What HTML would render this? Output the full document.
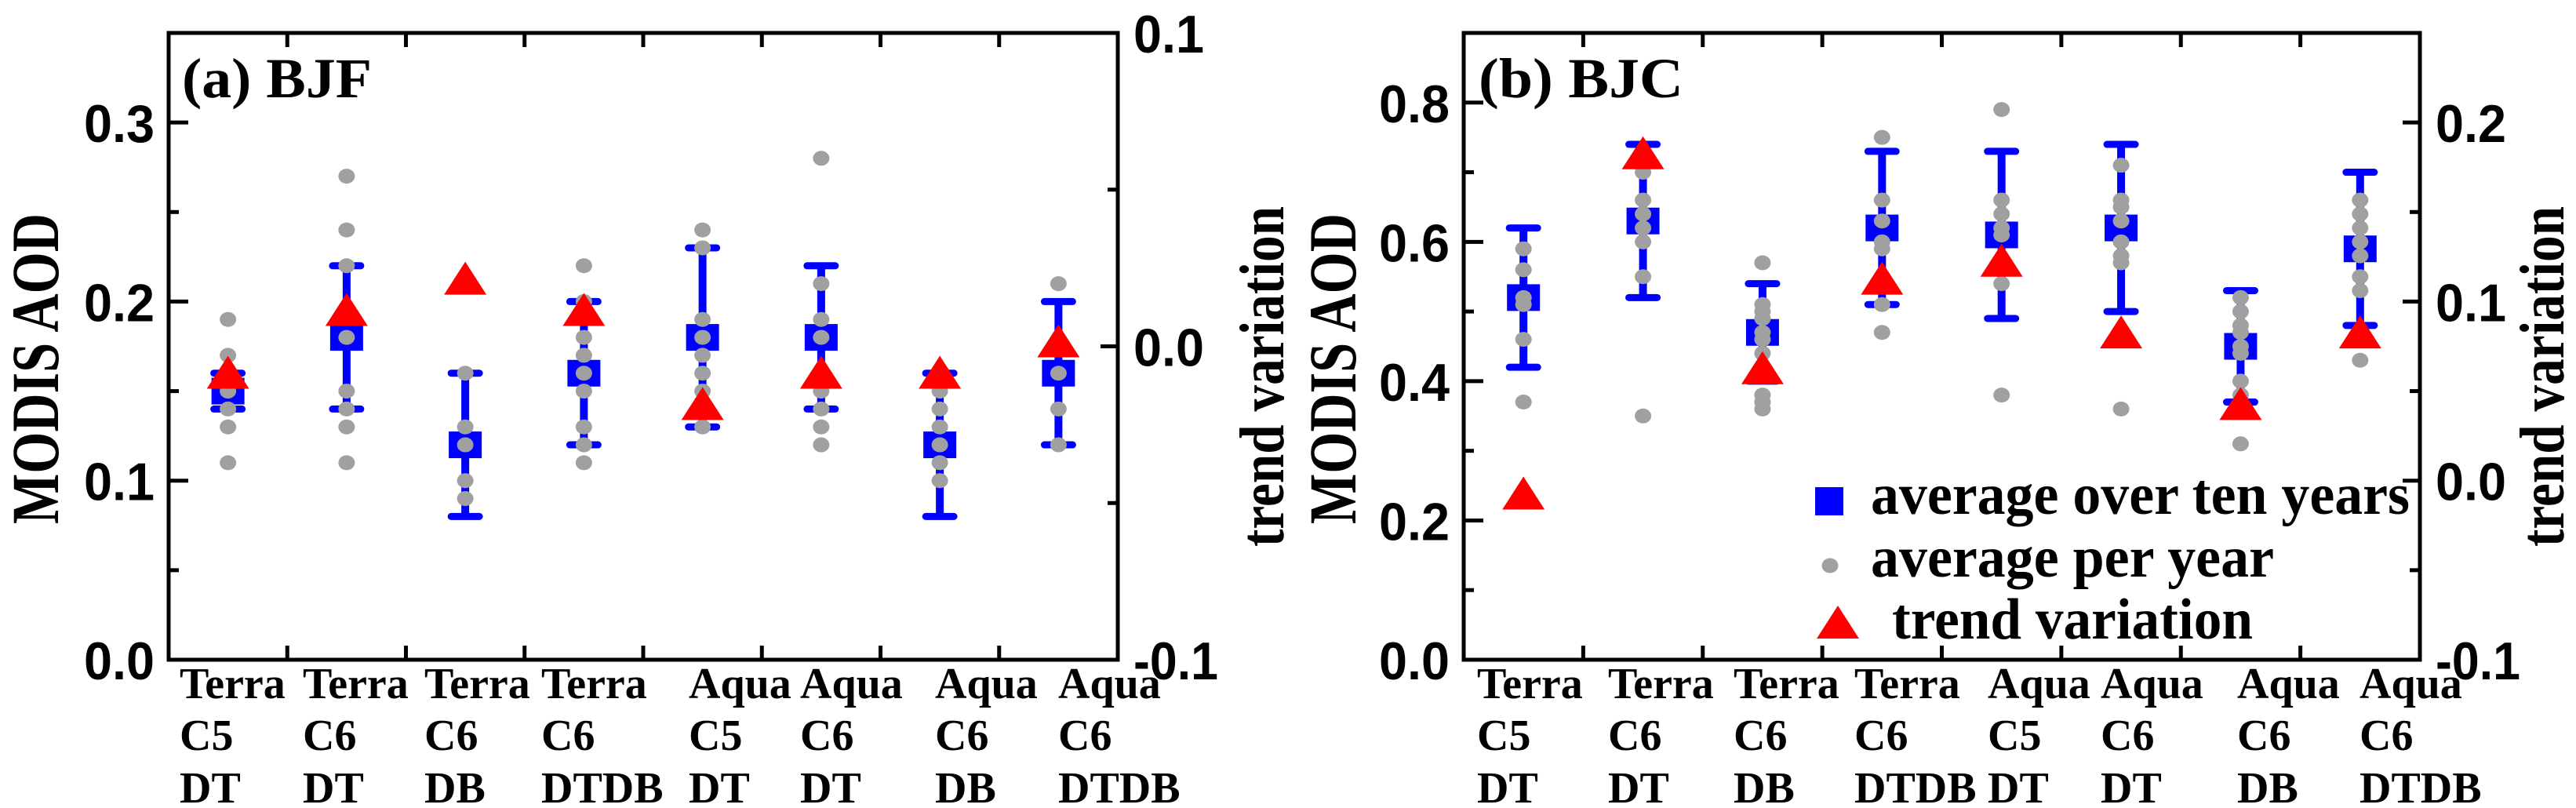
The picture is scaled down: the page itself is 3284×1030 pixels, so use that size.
<!DOCTYPE html>
<html><head><meta charset="utf-8"><style>
html,body{margin:0;padding:0;background:#fff;}
svg{display:block;}
text{font-weight:bold;}
.sans{font-family:"Liberation Sans",Arial,sans-serif;}
.serif{font-family:"Liberation Serif","Times New Roman",serif;}
</style></head><body>
<svg id="chart" width="3284" height="1030" viewBox="0 0 3284 1030" xmlns="http://www.w3.org/2000/svg"></svg>
<script>
const categories = [["Terra","C5","DT"],["Terra","C6","DT"],["Terra","C6","DB"],["Terra","C6","DTDB"],["Aqua","C5","DT"],["Aqua","C6","DT"],["Aqua","C6","DB"],["Aqua","C6","DTDB"]];
// Panel a (BJF)
const aMean = [0.15,0.18,0.12,0.16,0.18,0.18,0.12,0.16];
const aLow  = [0.14,0.14,0.08,0.12,0.13,0.14,0.08,0.12];
const aHigh = [0.16,0.22,0.16,0.20,0.23,0.22,0.16,0.20];
const aYears = [[0.19,0.17,0.16,0.15,0.14,0.13,0.11],[0.27,0.24,0.22,0.18,0.15,0.14,0.13,0.11],[0.16,0.13,0.12,0.10,0.09],[0.22,0.20,0.18,0.17,0.16,0.15,0.13,0.12,0.11],[0.24,0.23,0.19,0.18,0.17,0.16,0.15,0.13],[0.28,0.21,0.19,0.18,0.15,0.14,0.13,0.12],[0.16,0.15,0.14,0.13,0.12,0.11,0.10],[0.21,0.16,0.14,0.12]];
const aTrend = [-0.01,0.01,0.02,0.01,-0.02,-0.01,-0.01,0.0];
const aLeftTicks = ["0.0","0.1","0.2","0.3"];
const aRightTicks = ["-0.1","0.0","0.1"];
// Panel b (BJC)
const bMean = [0.52,0.63,0.47,0.62,0.61,0.62,0.45,0.59];
const bLow  = [0.42,0.52,0.40,0.51,0.49,0.50,0.37,0.48];
const bHigh = [0.62,0.74,0.54,0.73,0.73,0.74,0.53,0.70];
const bYears = [[0.59,0.56,0.52,0.51,0.46,0.37],[0.72,0.70,0.66,0.64,0.62,0.60,0.55,0.35],[0.57,0.51,0.50,0.49,0.47,0.46,0.44,0.38,0.37,0.36],[0.75,0.66,0.63,0.60,0.59,0.51,0.47],[0.79,0.66,0.64,0.62,0.61,0.54,0.38],[0.71,0.66,0.65,0.63,0.60,0.58,0.57,0.36],[0.52,0.50,0.48,0.47,0.45,0.44,0.40,0.38,0.31],[0.66,0.64,0.62,0.60,0.58,0.55,0.53,0.43]];
const bTrend = [-0.01,0.18,0.06,0.11,0.12,0.08,0.04,0.08];
const bLeftTicks = ["0.0","0.2","0.4","0.6","0.8"];
const bRightTicks = ["-0.1","0.0","0.1","0.2"];

const NS="http://www.w3.org/2000/svg";
const svg=document.getElementById('chart');
function mk(tag,attrs,parent){const e=document.createElementNS(NS,tag);for(const k in attrs)e.setAttribute(k,attrs[k]);(parent||svg).appendChild(e);return e;}

function panel(cfg){
  const g=mk('g',{});
  
  
  const L=cfg.left,R=cfg.right,T=42,B=841;
  const band=(R-L)/categories.length;
  const xc=i=>L+band*(i+0.5);
  const yL=v=>B-(v-cfg.lmin)/(cfg.lmax-cfg.lmin)*(B-T);
  const yR=v=>B-(v-cfg.rmin)/(cfg.rmax-cfg.rmin)*(B-T);
  for(let v=cfg.lmin;v<=cfg.lmax+1e-9;v+=cfg.lminor){
    const major=Math.abs(Math.round(v/cfg.lmajor)*cfg.lmajor-v)<1e-9;
    const t=mk('line',{x1:L,x2:L+(major?25:13),y1:yL(v),y2:yL(v),stroke:'#000','stroke-width':5},g);
    
    
  }
  cfg.lticks.forEach(s=>{
    const t=mk('text',{x:L-18,y:yL(parseFloat(s))+25,'text-anchor':'end','font-size':68,class:'sans',textLength:90,lengthAdjust:'spacingAndGlyphs'},g);
    t.textContent=s;
    
    
  });
  for(let v=cfg.rmin;v<=cfg.rmax+1e-9;v+=0.05){
    const major=Math.abs(Math.round(v/0.1)*0.1-v)<1e-9;
    const t=mk('line',{x1:R,x2:R-(major?22:13),y1:yR(v),y2:yR(v),stroke:'#000','stroke-width':5},g);
    
    
  }
  cfg.rticks.forEach(s=>{
    const t=mk('text',{x:R+20,y:yR(parseFloat(s))+25,'font-size':68,class:'sans',textLength:s.length>3?108:90,lengthAdjust:'spacingAndGlyphs'},g);
    t.textContent=s;
    
    
  });
  for(let i=1;i<categories.length;i++){
    const x=L+band*i;
    const t1=mk('line',{x1:x,x2:x,y1:B,y2:B-18,stroke:'#000','stroke-width':5},g);
    
    
    const t2=mk('line',{x1:x,x2:x,y1:T,y2:T+18,stroke:'#000','stroke-width':5},g);
    
    
  }
  categories.forEach((c,i)=>{
    c.forEach((s,r)=>{
      const t=mk('text',{x:cfg.labelX[i],y:[890,956,1023][r],'font-size':56,class:'serif'},g);
      t.textContent=s;
      
      
    });
  });
  categories.forEach((c,i)=>{
    const x=xc(i);
    const w=mk('line',{x1:x,x2:x,y1:yL(cfg.low[i]),y2:yL(cfg.high[i]),stroke:'#0000ff','stroke-width':10},g);
    
    
    [cfg.low[i],cfg.high[i]].forEach(v=>{
      const cp=mk('line',{x1:x-18,x2:x+18,y1:yL(v),y2:yL(v),stroke:'#0000ff','stroke-width':9,'stroke-linecap':'round'},g);
      
      
    });
    const sq=mk('rect',{x:x-21,y:yL(cfg.mean[i])-17,width:42,height:34,fill:'#0000ff'},g);
    
    
  });
  categories.forEach((c,i)=>{
    cfg.years[i].forEach(v=>{
      const d=mk('ellipse',{cx:xc(i),cy:yL(v),rx:10.5,ry:9.5,fill:'#a0a0a0'},g);
      
      
    });
  });
  categories.forEach((c,i)=>{
    const x=xc(i),y=yR(cfg.trend[i]);
    const p=mk('polygon',{points:`${x-27},${y+14} ${x+27},${y+14} ${x},${y-28}`,fill:'#ff0000'},g);
    
    
  });
  const fr=mk('rect',{x:L,y:T,width:R-L,height:B-T,fill:'none',stroke:'#000','stroke-width':5},g);
  
  
  const pl=mk('text',{x:cfg.titleX,y:124,'font-size':72,class:'serif','textLength':cfg.titleW,lengthAdjust:'spacingAndGlyphs','xml:space':'preserve'},g);
  pl.textContent=cfg.title;
  
  
  const yt=mk('text',{x:0,y:0,'font-size':86,class:'serif','text-anchor':'middle',transform:`translate(${cfg.ytX},470) rotate(-90)`,'textLength':396,lengthAdjust:'spacingAndGlyphs','xml:space':'preserve'},g);
  yt.textContent='MODIS  AOD';
  
  
  const rt=mk('text',{x:0,y:0,'font-size':80,class:'serif','text-anchor':'middle',transform:`translate(${cfg.rtX},480) rotate(-90)`,'textLength':434,lengthAdjust:'spacingAndGlyphs','xml:space':'preserve'},g);
  rt.textContent='trend  variation';
  
  
}

panel({id:'bjf',left:215,right:1425,lmin:0,lmax:0.35,lmajor:0.1,lminor:0.05,rmin:-0.1,rmax:0.1,
  lticks:aLeftTicks,rticks:aRightTicks,mean:aMean,low:aLow,high:aHigh,years:aYears,trend:aTrend,
  labelX:[229,386,541,690,878,1020,1192,1349],title:'(a)  BJF',titleX:232,titleW:242,ytX:74,rtX:1636});
panel({id:'bjc',left:1866,right:3085,lmin:0,lmax:0.9,lmajor:0.2,lminor:0.1,rmin:-0.1,rmax:0.25,
  lticks:bLeftTicks,rticks:bRightTicks,mean:bMean,low:bLow,high:bHigh,years:bYears,trend:bTrend,
  labelX:[1883,2050,2210,2364,2534,2678,2852,3008],title:'(b)  BJC',titleX:1885,titleW:261,ytX:1728,rtX:3268});

const lg=mk('g',{});


const ls=mk('rect',{x:2314,y:621,width:36,height:36,fill:'#0000ff'},lg);


const lt1=mk('text',{x:2385,y:655,'font-size':74,class:'serif','textLength':687,lengthAdjust:'spacingAndGlyphs'},lg);
lt1.textContent='average over ten years';


const ld=mk('ellipse',{cx:2333,cy:721,rx:10.5,ry:9.5,fill:'#a0a0a0'},lg);


const lt2=mk('text',{x:2385,y:735,'font-size':74,class:'serif','textLength':514,lengthAdjust:'spacingAndGlyphs'},lg);
lt2.textContent='average per year';


const ltr=mk('polygon',{points:'2316,814 2370,814 2343,772',fill:'#ff0000'},lg);


const lt3=mk('text',{x:2412,y:814,'font-size':74,class:'serif','textLength':460,lengthAdjust:'spacingAndGlyphs'},lg);
lt3.textContent='trend variation';


</script>
</body></html>
